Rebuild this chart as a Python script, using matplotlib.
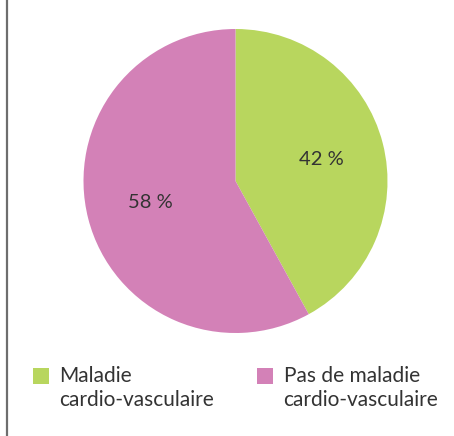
import matplotlib
matplotlib.use("Agg")
import matplotlib.pyplot as plt
from matplotlib.patches import Rectangle
from matplotlib.lines import Line2D

labels = ["Maladie\ncardio-vasculaire", "Pas de maladie\ncardio-vasculaire"]
shares = [42, 58]
colors = ["#b8d65e", "#d381b7"]

plt.rcParams["font.family"] = ["Lato", "DejaVu Sans"]
text_color = "#333333"

W, H = 454, 436
fig = plt.figure(figsize=(W / 100, H / 100), dpi=100)

# pie area (pixels: centre 235.5,181 from top, radius 152)
cx, cy, r = 235.5, 181, 152
ax = fig.add_axes([(cx - r) / W, (H - cy - r) / H, 2 * r / W, 2 * r / H])
ax.pie(shares, colors=colors, startangle=90, counterclock=False,
       autopct=lambda p: f"{p:.0f} %", pctdistance=0.58,
       textprops={"fontsize": 14.5, "color": text_color})
ax.set_xlim(-1, 1)
ax.set_ylim(-1, 1)
ax.set_aspect("auto")
ax.axis("off")

# legend drawn by hand
legend_x = [32.5, 256.5]
for lx, lab, col in zip(legend_x, labels, colors):
    fig.add_artist(Rectangle((lx / W, (H - 384) / H), 16.5 / W, 16.5 / H,
                             transform=fig.transFigure, color=col, lw=0))
    fig.text((lx + 27) / W, (H - 366) / H, lab, fontsize=15, color=text_color,
             va="top", ha="left", linespacing=1.25)

# left frame line
fig.add_artist(Line2D([6.5 / W, 6.5 / W], [0, 1], transform=fig.transFigure,
                      color="#6e6e6e", lw=1.6))

fig.savefig("out.png", dpi=100)
